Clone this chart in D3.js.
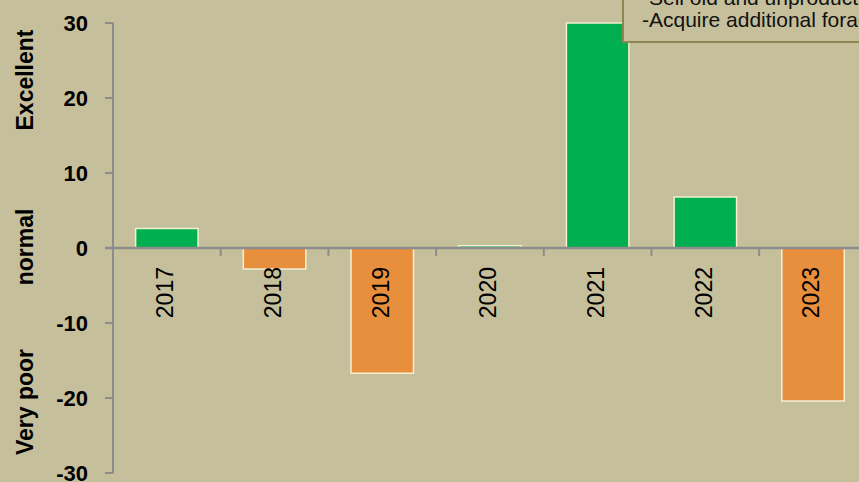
<!DOCTYPE html>
<html>
<head>
<meta charset="utf-8">
<script src="https://cdn.jsdelivr.net/npm/d3@7"></script>
<style>
  body { margin: 0; background: #c6bf9b; overflow: hidden; }
  svg { display: block; }
</style>
</head>
<body>
<svg id="chart" width="859" height="482"></svg>
<script>
// Data
const years = ["2017", "2018", "2019", "2020", "2021", "2022", "2023"];
const values = [2.6, -2.8, -16.7, 0.3, 30, 6.8, -20.4];
const yTicks = [30, 20, 10, 0, -10, -20, -30];
const bandLabels = [
    {text: "Excellent", at: 20},
    {text: "normal", at: 0},
    {text: "Very poor", at: -20}
];
const noteLines = ["-Sell old and unproductive animals", "-Acquire additional forage"];

let svg = d3.select("#chart"),
    width = +svg.attr("width"),
    height = +svg.attr("height");

const axisColor = "#8c8c8c";

// one extra empty slot on the right, the plot is cut off by the frame
let x = d3.scaleBand()
    .domain(years.concat(["next"]))
    .range([113, 113 + 8 * 107.7])
    .paddingInner(0.42)
    .paddingOuter(0.21);

let y = d3.scaleLinear().domain([-30, 30]).range([473, 23]);

// vertical axis
let yAxis = svg.append("g");
yAxis.append("line")
    .attr("x1", 113).attr("x2", 113)
    .attr("y1", y(30)).attr("y2", y(-30))
    .attr("stroke", axisColor).attr("stroke-width", 2);
yAxis.selectAll("line.tick")
    .data(yTicks)
    .enter().append("line")
    .attr("class", "tick")
    .attr("x1", 105).attr("x2", 113)
    .attr("y1", d => y(d)).attr("y2", d => y(d))
    .attr("stroke", axisColor).attr("stroke-width", 2);
yAxis.selectAll("text")
    .data(yTicks)
    .enter().append("text")
    .attr("x", 88)
    .attr("y", d => y(d))
    .attr("dy", "0.36em")
    .attr("text-anchor", "end")
    .attr("font-family", "Liberation Sans, Arial, sans-serif")
    .attr("font-weight", "bold")
    .attr("font-size", 22)
    .attr("fill", "#000")
    .text(d => d);

// side labels
svg.selectAll("text.band")
    .data(bandLabels)
    .enter().append("text")
    .attr("class", "band")
    .attr("transform", d => "translate(33," + (d.at === 20 ? 80 : d.at === 0 ? 247 : 402) + ") rotate(-90)")
    .attr("text-anchor", "middle")
    .attr("font-family", "Liberation Sans, Arial, sans-serif")
    .attr("font-weight", "bold")
    .attr("font-size", 23)
    .attr("fill", "#000")
    .text(d => d.text);

// bars
svg.append("g").selectAll("rect")
    .data(values)
    .enter().append("rect")
    .attr("x", (d, i) => x(years[i]))
    .attr("width", x.bandwidth())
    .attr("y", d => y(Math.max(0, d)))
    .attr("height", d => Math.abs(y(d) - y(0)))
    .attr("fill", d => d >= 0 ? "#00b050" : "#e88f3d")
    .attr("stroke", "#f3f0d2")
    .attr("stroke-width", 1.5);

// zero line and category ticks
let xAxis = svg.append("g");
xAxis.append("line")
    .attr("x1", 105).attr("x2", width)
    .attr("y1", y(0)).attr("y2", y(0))
    .attr("stroke", axisColor).attr("stroke-width", 2.5);
let step = x.step();
xAxis.selectAll("line.tick")
    .data(years)
    .enter().append("line")
    .attr("class", "tick")
    .attr("x1", (d, i) => 113 + i * step).attr("x2", (d, i) => 113 + i * step)
    .attr("y1", y(0)).attr("y2", y(0) + 8)
    .attr("stroke", axisColor).attr("stroke-width", 2);
xAxis.selectAll("text")
    .data(years)
    .enter().append("text")
    .attr("transform", d => "translate(" + (x(d) + x.bandwidth() / 2 - 2) + "," + 267 + ") rotate(-90)")
    .attr("dy", "0.36em")
    .attr("text-anchor", "end")
    .attr("font-family", "Liberation Sans, Arial, sans-serif")
    .attr("font-size", 23)
    .attr("fill", "#000")
    .text(d => d);

// note box, cut off at the top right
let note = svg.append("g");
note.append("rect")
    .attr("x", 623).attr("y", -20)
    .attr("width", 400).attr("height", 62)
    .attr("fill", "#c6bf9b")
    .attr("stroke", "#8f8752")
    .attr("stroke-width", 2);
note.selectAll("text")
    .data(noteLines)
    .enter().append("text")
    .attr("x", 642)
    .attr("y", (d, i) => 5 + i * 22)
    .attr("font-family", "Liberation Sans, Arial, sans-serif")
    .attr("font-size", 21)
    .attr("fill", "#111")
    .text(d => d);
</script>
</body>
</html>
